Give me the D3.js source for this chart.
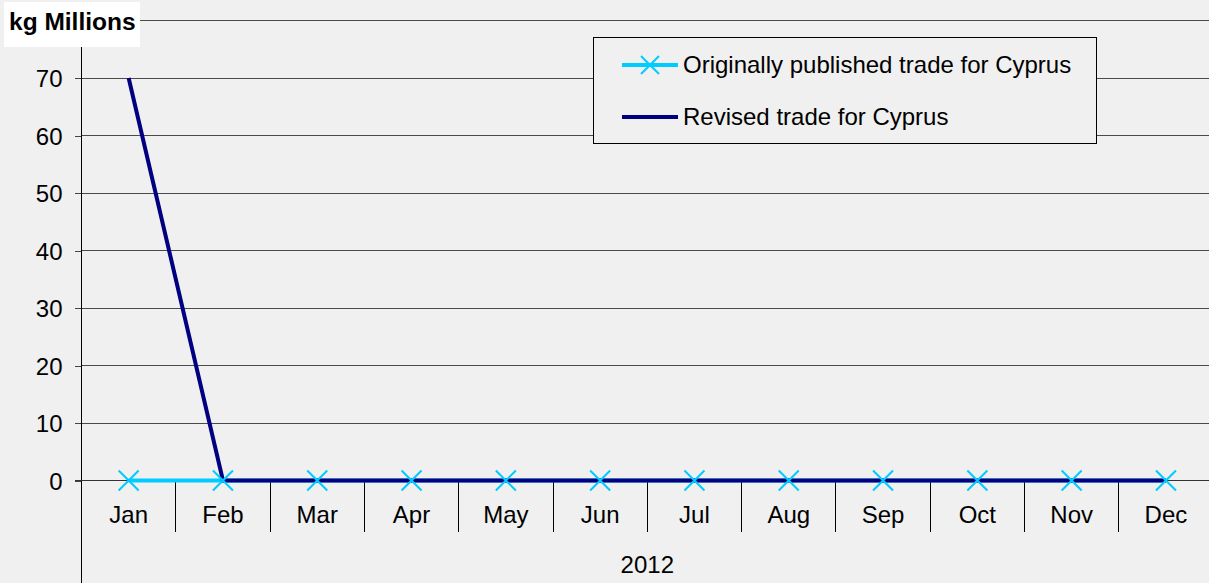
<!DOCTYPE html>
<html>
<head>
<meta charset="utf-8">
<script src="https://cdn.jsdelivr.net/npm/d3@7"></script>
<style>
  body { margin: 0; background: #f0f0f0; }
  svg { display: block; font-family: Arial, "Liberation Sans", sans-serif; }
</style>
</head>
<body>
<svg id="chart" width="1209" height="583"></svg>
<script>
// data
var months = ["Jan", "Feb", "Mar", "Apr", "May", "Jun", "Jul", "Aug", "Sep", "Oct", "Nov", "Dec"];
var original = [0, 0, 0, 0, 0, 0, 0, 0, 0, 0, 0, 0];
var revised = [70, 0, 0, 0, 0, 0, 0, 0, 0, 0, 0, 0];
var yTicks = [0, 10, 20, 30, 40, 50, 60, 70, 80];
var yearLabel = "2012";
var unitLabel = "kg Millions";
var seriesNames = ["Originally published trade for Cyprus", "Revised trade for Cyprus"];

var cyan = "#00ccff", navy = "#000080";
var fs = 24;

var svg = d3.select("#chart");
var plotLeft = 81.5, bandW = 94.3, plotTop = 20.5, zeroY = 480.5;

var x = d3.scaleBand().domain(months).range([plotLeft, plotLeft + bandW * months.length]);
var y = d3.scaleLinear().domain([0, 80]).range([zeroY, plotTop]);

// gridlines
svg.append("g").selectAll("line")
  .data(yTicks.filter(function(d) { return d > 0; }))
  .join("line")
  .attr("x1", plotLeft).attr("x2", 1209)
  .attr("y1", function(d) { return y(d); }).attr("y2", function(d) { return y(d); })
  .attr("stroke", "#4a4a4a").attr("stroke-width", 1)
  .attr("shape-rendering", "crispEdges");

// y axis
var yAxis = d3.axisLeft(y).tickValues(yTicks.filter(function(d) { return d < 80; }))
  .tickSize(7).tickPadding(12).tickFormat(d3.format("d"));
var yg = svg.append("g").attr("transform", "translate(" + plotLeft + ",0)").call(yAxis);
yg.select(".domain").remove();
yg.selectAll(".tick line").attr("stroke", "#444").attr("shape-rendering", "crispEdges");
yg.selectAll(".tick text").attr("font-size", fs).attr("fill", "#000")
  .attr("font-family", "Arial, 'Liberation Sans', sans-serif").attr("dy", "0.36em");

svg.append("line").attr("x1", plotLeft).attr("x2", plotLeft).attr("y1", plotTop).attr("y2", 583)
  .attr("stroke", "#000").attr("shape-rendering", "crispEdges");

// x axis baseline + category separators
svg.append("line").attr("x1", plotLeft - 7).attr("x2", 1209).attr("y1", zeroY).attr("y2", zeroY)
  .attr("stroke", "#333").attr("shape-rendering", "crispEdges");
svg.append("g").selectAll("line")
  .data(months.slice(1))
  .join("line")
  .attr("x1", function(d) { return x(d); }).attr("x2", function(d) { return x(d); })
  .attr("y1", zeroY).attr("y2", 532)
  .attr("stroke", "#000").attr("shape-rendering", "crispEdges");
svg.append("g").selectAll("text")
  .data(months)
  .join("text")
  .attr("x", function(d) { return x(d) + x.bandwidth() / 2; })
  .attr("y", 523)
  .attr("text-anchor", "middle").attr("font-size", fs).attr("fill", "#000")
  .text(function(d) { return d; });
svg.append("text")
  .attr("x", (x.range()[0] + x.range()[1]) / 2).attr("y", 573)
  .attr("text-anchor", "middle").attr("font-size", fs).attr("fill", "#000")
  .text(yearLabel);

// series
var line = d3.line()
  .x(function(d, i) { return x(months[i]) + x.bandwidth() / 2; })
  .y(function(d) { return y(d); });

svg.append("path").attr("d", line(original))
  .attr("fill", "none").attr("stroke", cyan).attr("stroke-width", 4);
svg.append("path").attr("d", line(revised))
  .attr("fill", "none").attr("stroke", navy).attr("stroke-width", 4);

function cross(g, cx, cy, s) {
  g.append("path")
    .attr("d", "M" + (cx - s) + "," + (cy - s) + "L" + (cx + s) + "," + (cy + s) +
               "M" + (cx - s) + "," + (cy + s) + "L" + (cx + s) + "," + (cy - s))
    .attr("stroke", cyan).attr("stroke-width", 2).attr("fill", "none");
}
var mk = svg.append("g");
original.forEach(function(d, i) {
  cross(mk, x(months[i]) + x.bandwidth() / 2, y(d), 10);
});

// unit label box
svg.append("rect").attr("x", 4).attr("y", 2).attr("width", 136).attr("height", 45).attr("fill", "#fff");
svg.append("text").attr("x", 9).attr("y", 30).attr("font-size", 24.5).attr("font-weight", "bold")
  .attr("fill", "#000").text(unitLabel);

// legend
var lg = svg.append("g");
lg.append("rect").attr("x", 593.5).attr("y", 37.5).attr("width", 503).attr("height", 106)
  .attr("fill", "#f0f0f0").attr("stroke", "#000").attr("stroke-width", 1);
var rowsY = [65, 117];
var colors = [cyan, navy];
seriesNames.forEach(function(name, i) {
  lg.append("line").attr("x1", 622).attr("x2", 678).attr("y1", rowsY[i]).attr("y2", rowsY[i])
    .attr("stroke", colors[i]).attr("stroke-width", 4);
  if (i === 0) cross(lg, 650, rowsY[i], 9);
  lg.append("text").attr("x", 683).attr("y", rowsY[i] + 8).attr("font-size", fs)
    .attr("fill", "#000").text(name);
});
</script>
</body>
</html>
